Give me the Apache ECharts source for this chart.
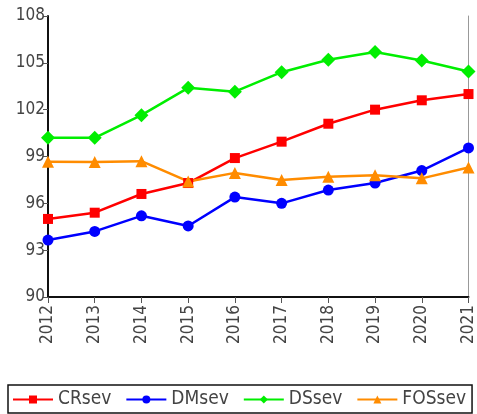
<!DOCTYPE html>
<html><head><meta charset="utf-8">
<script src="https://cdn.jsdelivr.net/npm/echarts@6/dist/echarts.min.js"></script>
<style>html,body{margin:0;padding:0;background:#fff}#c{width:477px;height:414px}</style>
</head><body><div id="c"></div>
<script>
var years = ['2012','2013','2014','2015','2016','2017','2018','2019','2020','2021'];
var CRsev = [95.0, 95.4, 96.6, 97.3, 98.9, 99.95, 101.1, 102.0, 102.6, 103.0];
var DMsev = [93.65, 94.2, 95.2, 94.55, 96.4, 96.0, 96.85, 97.3, 98.1, 99.55];
var DSsev = [100.2, 100.2, 101.65, 103.4, 103.15, 104.4, 105.2, 105.7, 105.15, 104.45];
var FOSsev = [98.67, 98.65, 98.7, 97.4, 97.95, 97.5, 97.7, 97.8, 97.6, 98.3];
var yTicks = [90, 93, 96, 99, 102, 105, 108];
var FONT = '"DejaVu Sans Condensed", "DejaVu Sans", sans-serif';
function mk(name, data, color, symbol, size) {
  return {name: name, type: 'line', data: data, symbol: symbol, symbolSize: size,
    lineStyle: {color: color, width: 2.5}, itemStyle: {color: color}};
}
var chart = echarts.init(document.getElementById('c'));
chart.setOption({
  animation: false,
  grid: {left: 48, right: 8, top: 16, bottom: 117},
  xAxis: {type: 'category', data: years, boundaryGap: false,
    axisLine: {lineStyle: {color: '#111', width: 2}},
    axisTick: {show: true, alignWithLabel: true, length: 6, lineStyle: {color: '#555'}},
    axisLabel: {rotate: 90, fontSize: 17, color: '#444', fontFamily: FONT, margin: 8}},
  yAxis: [{type: 'value', min: yTicks[0], max: yTicks[yTicks.length-1], interval: 3,
    axisLine: {show: true, lineStyle: {color: '#111', width: 2}},
    axisTick: {show: true, length: 5, lineStyle: {color: '#555'}},
    splitLine: {show: false},
    axisLabel: {fontSize: 17, color: '#444', fontFamily: FONT, margin: 3}},
    {type: 'value', position: 'right', min: 90, max: 108, axisLine: {show: true, lineStyle: {color: '#999', width: 1}},
     axisTick: {show: false}, axisLabel: {show: false}, splitLine: {show: false}}],
  legend: {bottom: 1, left: 8, itemGap: 14, itemWidth: 40, itemHeight: 10,
    borderColor: '#111', borderWidth: 1.5, padding: [5, 6, 4, 4],
    textStyle: {fontSize: 19, color: '#444', fontFamily: FONT},
    data: ['CRsev','DMsev','DSsev','FOSsev']},
  series: [mk('CRsev', CRsev, '#ff0000', 'rect', 10),
    mk('DMsev', DMsev, '#0000ff', 'circle', 11),
    mk('DSsev', DSsev, '#00ee00', 'diamond', 14),
    mk('FOSsev', FOSsev, '#ff8c00', 'triangle', 12)]
});
</script></body></html>
